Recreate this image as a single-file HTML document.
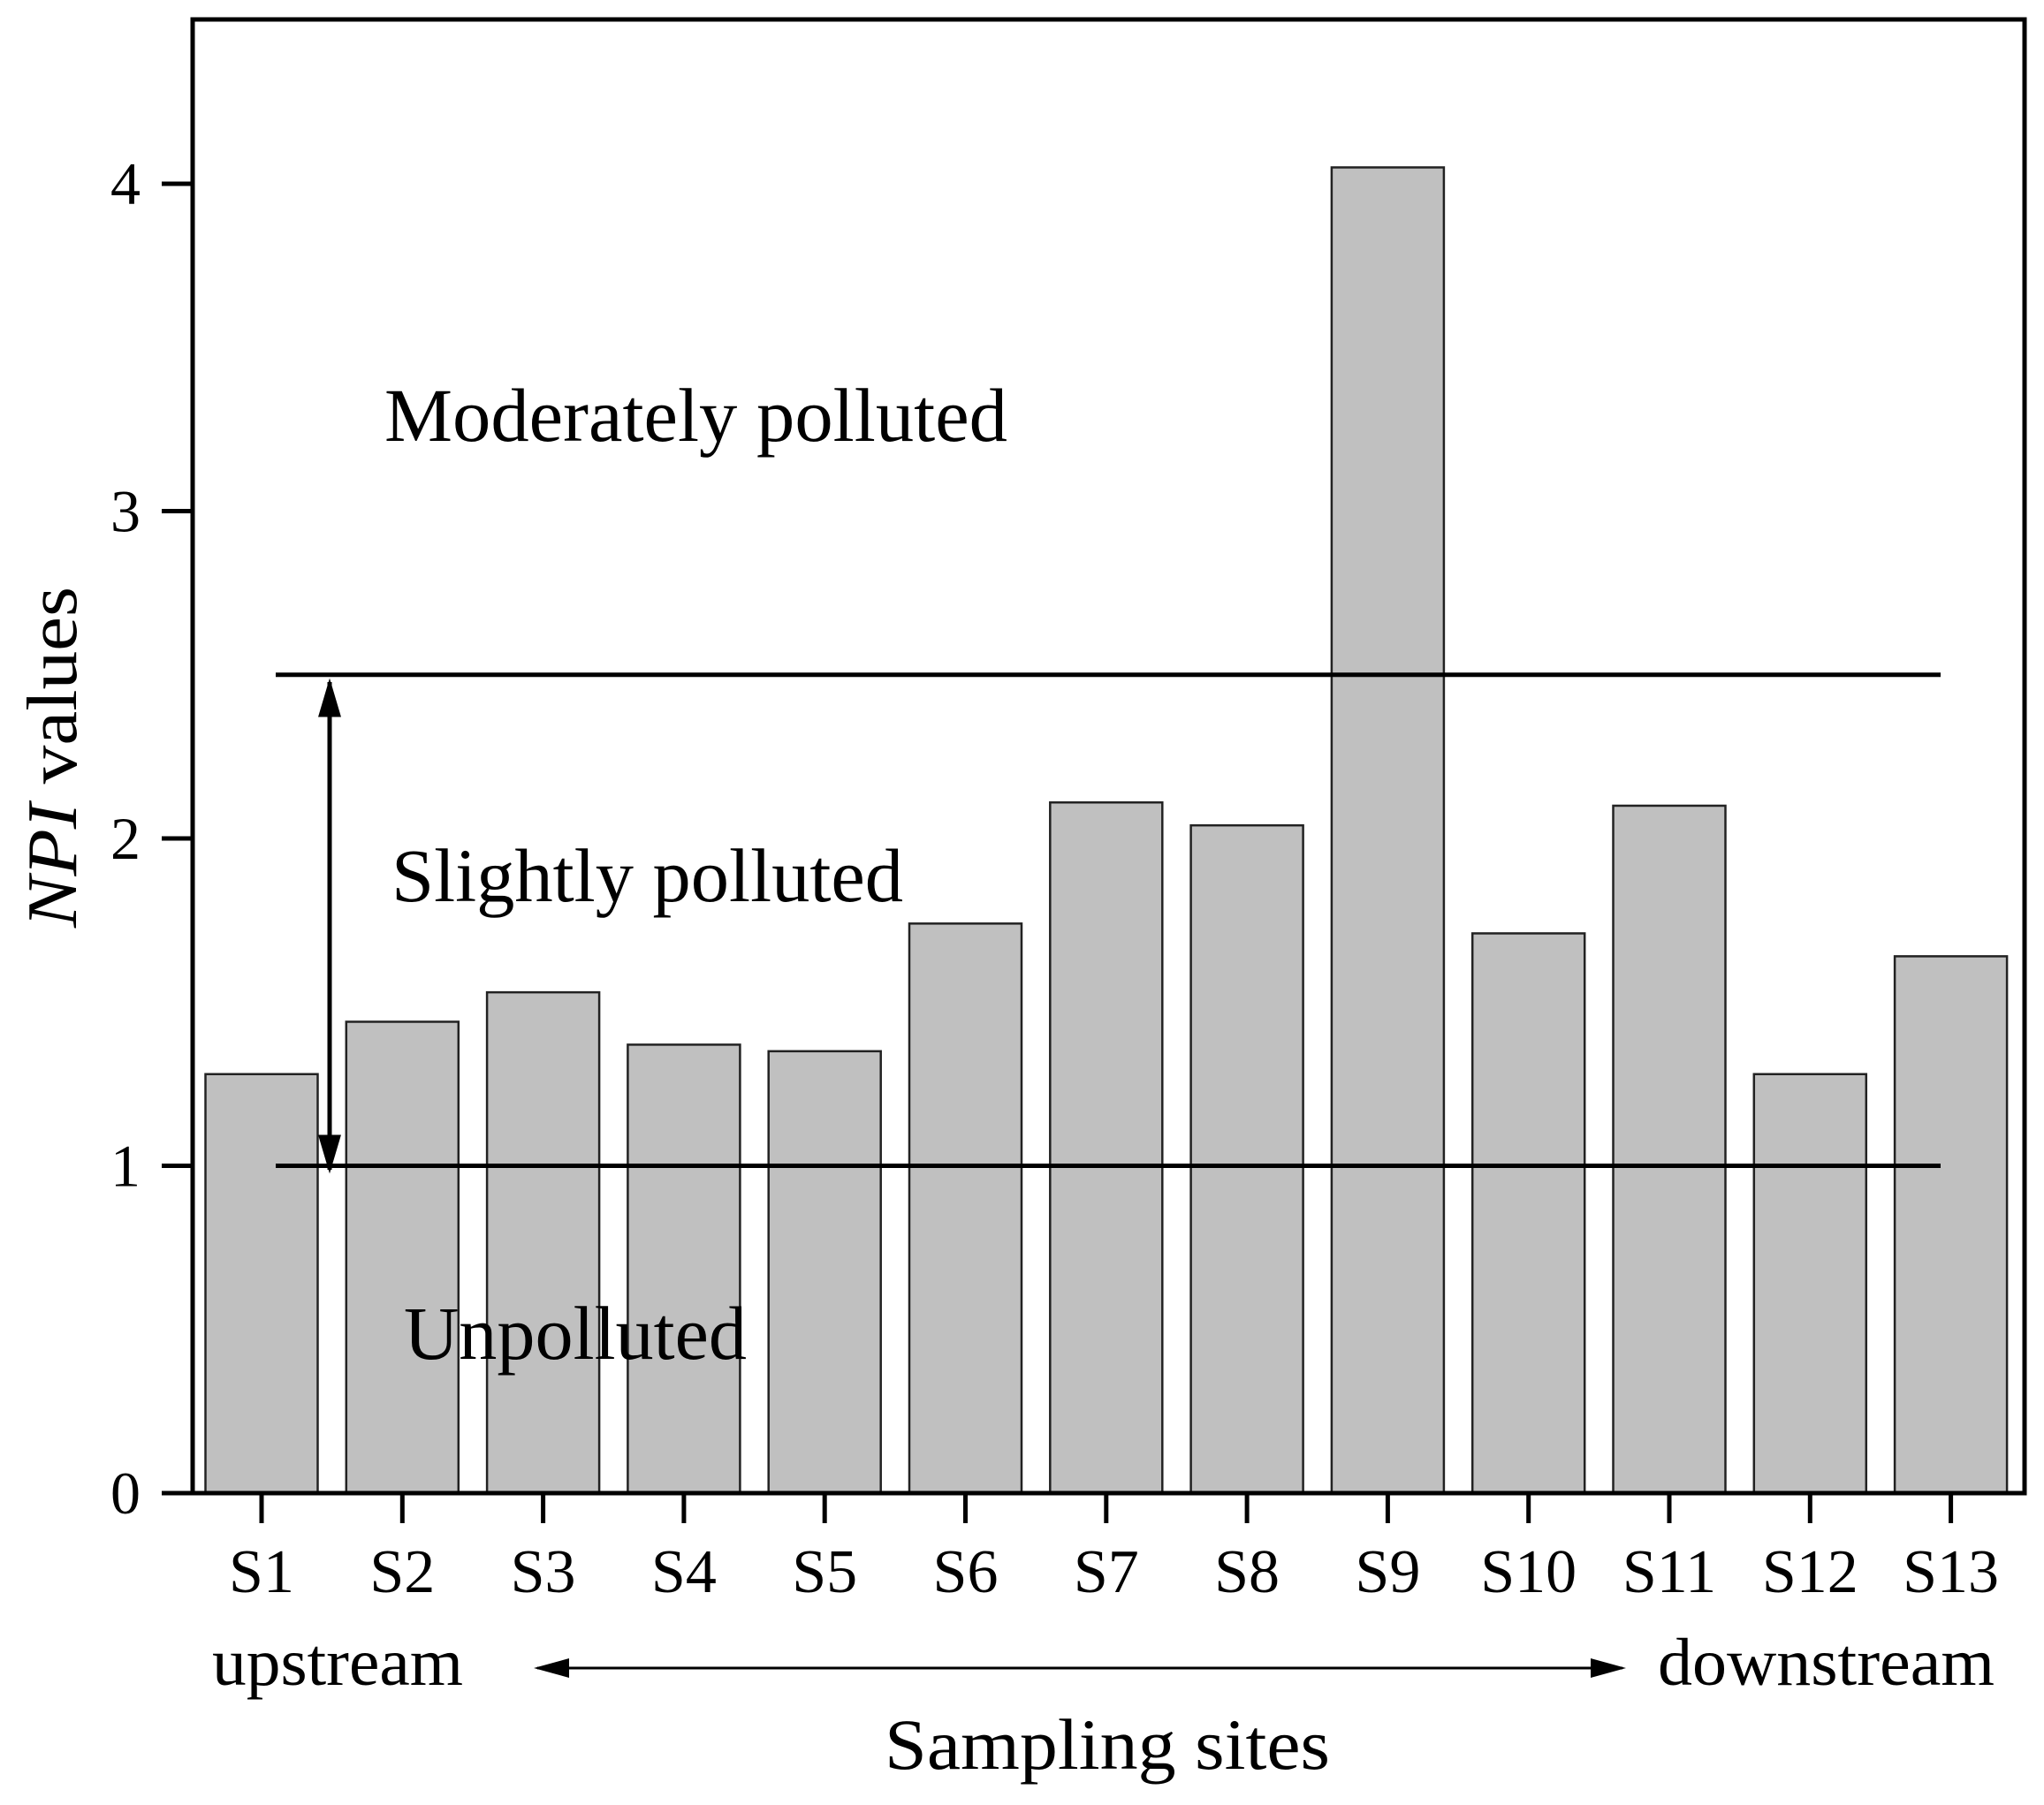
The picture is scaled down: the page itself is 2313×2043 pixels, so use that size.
<!DOCTYPE html>
<html><head><meta charset="utf-8"><style>
html,body{margin:0;padding:0;background:#fff;}
svg{display:block;font-family:"Liberation Serif",serif;}
</style></head><body>
<svg id="chart" width="2313" height="2043" viewBox="0 0 2313 2043">
<defs>
<marker id="ah" viewBox="0 0 10 10" refX="9" refY="5" markerWidth="44" markerHeight="26" orient="auto-start-reverse" markerUnits="userSpaceOnUse" preserveAspectRatio="none"><path d="M0,0 L10,5 L0,10 z" fill="#000"/></marker>
<marker id="ah2" viewBox="0 0 10 10" refX="9" refY="5" markerWidth="40" markerHeight="22" orient="auto-start-reverse" markerUnits="userSpaceOnUse" preserveAspectRatio="none"><path d="M0,0 L10,5 L0,10 z" fill="#000"/></marker>
</defs>
<g id="bars"></g>
<g id="thresholds"></g>
<rect x="218" y="22" width="2073" height="1668" fill="none" stroke="#000" stroke-width="5"/>
<g id="yaxis"></g>
<g id="xaxis"></g>
<line x1="373" y1="772" x2="373" y2="1324" stroke="#000" stroke-width="5" marker-start="url(#ah)" marker-end="url(#ah)"/>
<text x="435" y="499" font-size="86" textLength="705" lengthAdjust="spacingAndGlyphs">Moderately polluted</text>
<text x="443" y="1020" font-size="86" textLength="579" lengthAdjust="spacingAndGlyphs">Slightly polluted</text>
<text x="457" y="1538" font-size="86" textLength="388" lengthAdjust="spacingAndGlyphs">Unpolluted</text>
<text x="240" y="1907" font-size="76" textLength="284" lengthAdjust="spacingAndGlyphs">upstream</text>
<text x="1876" y="1907" font-size="76" textLength="381" lengthAdjust="spacingAndGlyphs">downstream</text>
<line x1="608" y1="1888" x2="1836" y2="1888" stroke="#000" stroke-width="3" marker-start="url(#ah2)" marker-end="url(#ah2)"/>
<text x="1001" y="2002" font-size="82" textLength="504" lengthAdjust="spacingAndGlyphs">Sampling sites</text>
<text transform="translate(86,857) rotate(-90)" text-anchor="middle" font-size="80" textLength="386" lengthAdjust="spacingAndGlyphs"><tspan font-style="italic">NPI</tspan> values</text>
</svg>
<script>
const categories = ["S1","S2","S3","S4","S5","S6","S7","S8","S9","S10","S11","S12","S13"];
const npiValues = [1.28,1.44,1.53,1.37,1.35,1.74,2.11,2.04,4.05,1.71,2.10,1.28,1.64];
const yTicks = [0,1,2,3,4];
const thresholds = [1,2.5];

const NS = "http://www.w3.org/2000/svg";
const y0 = 1690, unit = 370.5;
const yScale = v => y0 - v*unit;
const x0 = 296, step = 159.3;
const xScale = i => x0 + i*step;
const barW = 127;
function mk(tag, attrs, parent){const e=document.createElementNS(NS,tag);for(const k in attrs)e.setAttribute(k,attrs[k]);parent.appendChild(e);return e;}

const bars=document.getElementById('bars');
npiValues.forEach((v,i)=>{
  const r=mk('rect',{x:xScale(i)-barW/2,y:yScale(v),width:barW,height:y0-yScale(v),fill:'#c0c0c0',stroke:'#222','stroke-width':2.5},bars);
  
  
});
const th=document.getElementById('thresholds');
thresholds.forEach(t=>{
  const l=mk('line',{x1:312,x2:2196,y1:yScale(t),y2:yScale(t),stroke:'#000','stroke-width':5},th);
  
  
});
const ya=document.getElementById('yaxis');
yTicks.forEach(t=>{
  const y=yScale(t);
  const l=mk('line',{x1:183,x2:218,y1:y,y2:y,stroke:'#000','stroke-width':5},ya);
  
  
  const tx=mk('text',{x:142,y:y+23,'font-size':68,'text-anchor':'middle'},ya);
  tx.textContent=t;
  
  
});
const xa=document.getElementById('xaxis');
categories.forEach((c,i)=>{
  const x=xScale(i);
  const l=mk('line',{x1:x,x2:x,y1:y0,y2:y0+34,stroke:'#000','stroke-width':5},xa);
  
  
  const tx=mk('text',{x:x,y:1802,'font-size':70,'text-anchor':'middle'},xa);
  tx.textContent=c;
  
  
});
</script>
</body></html>
